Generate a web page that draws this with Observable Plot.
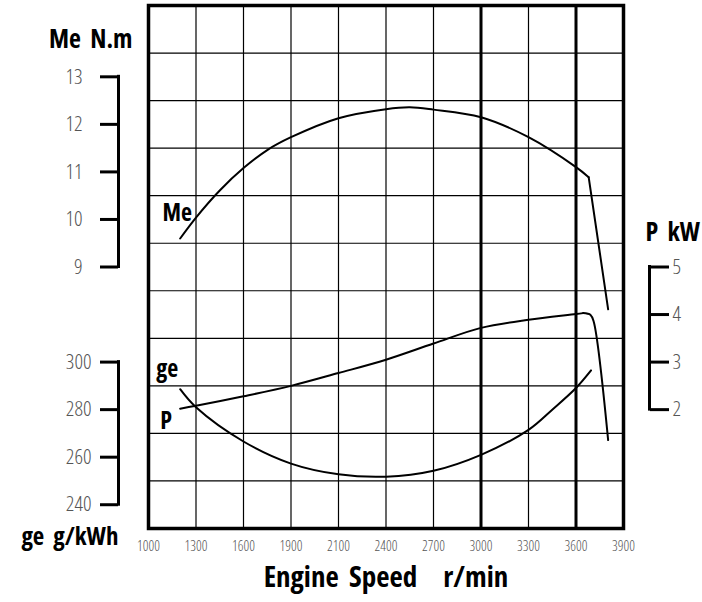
<!DOCTYPE html>
<html><head><meta charset="utf-8">
<script src="https://cdn.jsdelivr.net/npm/d3@7"></script>
<script src="https://cdn.jsdelivr.net/npm/@observablehq/plot@0.6"></script>
<style>
body{margin:0;background:#fff}
svg text{white-space:pre;font-stretch:75%}
</style>
</head><body><div id="chart"></div>
<script>
// Tick labels
const speedTicks = [1000,1300,1600,1900,2100,2400,2700,3000,3300,3600,3900];
const thickSpeeds = [3000,3600];
const meTicks = [9,10,11,12,13];
const geTicks = [240,260,280,300];
const pTicks = [2,3,4,5];

// Torque Me (N.m)
const meRpm = [1200,1300,1450,1600,1750,1900,2100,2400,2550,2700,3000,3300,3600,3680];
const meVal = [9.60,10.04,10.61,11.08,11.46,11.73,12.13,12.32,12.36,12.31,12.15,11.73,11.10,10.89];
const meTailRpm = [3680,3803];
const meTailVal = [10.89,8.11];

// Power P (kW)
const pRpm = [1200,1300,1600,1900,2100,2400,2700,3000,3300,3600,3645];
const pVal = [2.02,2.08,2.28,2.50,2.77,3.05,3.39,3.72,3.89,4.01,4.03];
const pTailRpm = [3645,3692,3712,3803];
const pTailVal = [4.03,3.99,3.85,1.36];

// Specific fuel consumption ge (g/kWh)
const geRpm = [1200,1300,1600,1900,2100,2400,2700,3000,3300,3450,3600,3695];
const geVal = [288.6,281.0,266.6,257.3,252.8,251.8,254.3,261.0,271.5,280.0,289.1,296.5];

// secondary scales mapped onto the Me (primary) scale
const geToMe = d3.scaleLinear([240,300],[4,7]);
const pToMe = d3.scaleLinear([2,5],[6,9]);
const gridRows = d3.range(3.5, 14.6, 1);

const zip = (xs, ys) => xs.map((x,i) => ({rpm:x, v:ys[i]}));
const me = zip(meRpm, meVal), meTail = zip(meTailRpm, meTailVal);
const pw = zip(pRpm, pVal), pwTail = zip(pTailRpm, pTailVal);
const ge = zip(geRpm, geVal);

const font = "'Open Sans','DejaVu Sans',sans-serif";
const tickStyle = {fill: "#555", fontWeight: 300, fontFamily: font};
const sp = "\u00a0";

const chart = Plot.plot({
  width: 702, height: 600,
  marginLeft: 148, marginRight: 79, marginTop: 5, marginBottom: 72,
  style: {fontFamily: font, background: "white", color: "black"},
  x: {type: "linear", domain: speedTicks, axis: null},
  y: {domain: [3.5, 14.5], axis: null},
  marks: [
    Plot.ruleX(speedTicks, {stroke: "black", strokeWidth: d => thickSpeeds.includes(d) ? 3 : 1.2}),
    Plot.ruleY(gridRows, {stroke: "black", strokeWidth: 1.2}),
    Plot.frame({stroke: "black", strokeWidth: 3.5}),

    Plot.line(me, {x: "rpm", y: "v", curve: "catmull-rom", strokeWidth: 2}),
    Plot.line(meTail, {x: "rpm", y: "v", strokeWidth: 2}),
    Plot.line(pw, {x: "rpm", y: d => pToMe(d.v), curve: "catmull-rom", strokeWidth: 2}),
    Plot.line(pwTail, {x: "rpm", y: d => pToMe(d.v), curve: "catmull-rom", strokeWidth: 2}),
    Plot.line(ge, {x: "rpm", y: d => geToMe(d.v), curve: "catmull-rom", strokeWidth: 2}),

    Plot.text(me, Plot.selectFirst({x: "rpm", y: "v", text: () => "Me", dx: -3, dy: -25, fontSize: 24, fontWeight: "bold"})),
    Plot.text(ge, Plot.selectFirst({x: "rpm", y: d => geToMe(d.v), text: () => "ge", dx: -13, dy: -20, fontSize: 24, fontWeight: "bold"})),
    Plot.text(pw, Plot.selectFirst({x: "rpm", y: d => pToMe(d.v), text: () => "P", dx: -14, dy: 13, fontSize: 24, fontWeight: "bold"})),

    // Me axis (bracket)
    Plot.ruleX([speedTicks[0]], {y1: d3.min(meTicks), y2: d3.max(meTicks), dx: -30, strokeWidth: 3, strokeLinecap: "square"}),
    Plot.axisY(meTicks, {anchor: "left", label: null, dx: -30, tickSize: 18, tickPadding: 18, strokeWidth: 3, fontSize: 21, ...tickStyle}),
    // ge axis (bracket)
    Plot.ruleX([speedTicks[0]], {y1: geToMe(d3.min(geTicks)), y2: geToMe(d3.max(geTicks)), dx: -30, strokeWidth: 3, strokeLinecap: "square"}),
    Plot.axisY(geTicks, {anchor: "left", label: null, y: geToMe, tickFormat: d => String(d), dx: -30, tickSize: 18, tickPadding: 9, strokeWidth: 3, fontSize: 21, ...tickStyle}),
    // P axis (bracket, right)
    Plot.ruleX([speedTicks[speedTicks.length-1]], {y1: pToMe(d3.min(pTicks)), y2: pToMe(d3.max(pTicks)), dx: 26, strokeWidth: 3, strokeLinecap: "square"}),
    Plot.axisY(pTicks, {anchor: "right", label: null, y: pToMe, tickFormat: d => String(d), dx: 26, tickSize: 19, tickPadding: 4, strokeWidth: 3, fontSize: 21, ...tickStyle}),
    // speed axis
    Plot.axisX(speedTicks, {anchor: "bottom", label: null, tickSize: 0, tickPadding: 13, tickFormat: d => String(d), fontSize: 14, ...tickStyle}),

    // titles
    Plot.text([`Me${sp}${sp}N.m`], {frameAnchor: "top-left", dx: -16, dy: 24, textAnchor: "end", fontSize: 26, fontWeight: "bold"}),
    Plot.text([`ge${sp}${sp}g/kWh`], {frameAnchor: "bottom-left", dx: -30, dy: 16, textAnchor: "end", fontSize: 25, fontWeight: "bold"}),
    Plot.text([`P${sp}${sp}kW`], {frameAnchor: "right", dx: 22, dy: -34, textAnchor: "start", fontSize: 26, fontWeight: "bold"}),
    Plot.text([`Engine${sp}${sp}Speed${sp}${sp}${sp}${sp}${sp}r/min`], {frameAnchor: "bottom", dy: 58, fontSize: 29, fontWeight: "bold"})
  ]
});
document.getElementById("chart").append(chart);
</script>
</body></html>
